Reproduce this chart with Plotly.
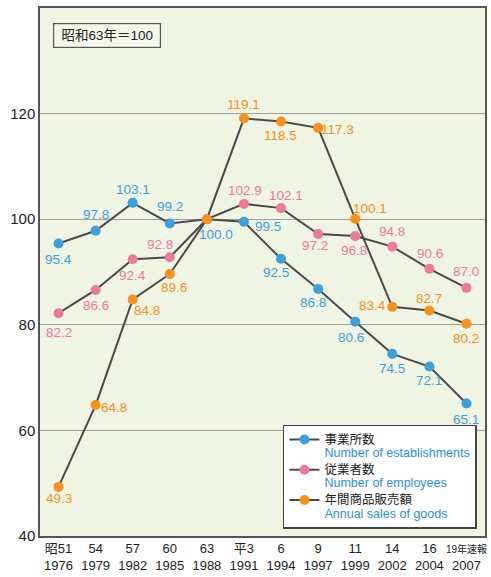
import plotly.graph_objects as go

categories = ["昭51<br>1976", "54<br>1979", "57<br>1982", "60<br>1985", "63<br>1988", "平3<br>1991",
              "6<br>1994", "9<br>1997", "11<br>1999", "14<br>2002", "16<br>2004",
              "<span style='font-size:10px'>19年速報</span><br>2007"]
establishments = [95.4, 97.8, 103.1, 99.2, 100.0, 99.5, 92.5, 86.8, 80.6, 74.5, 72.1, 65.1]
employees = [82.2, 86.6, 92.4, 92.8, 100.0, 102.9, 102.1, 97.2, 96.8, 94.8, 90.6, 87.0]
sales = [49.3, 64.8, 84.8, 89.6, 100.0, 119.1, 118.5, 117.3, 100.1, 83.4, 82.7, 80.2]

# label offsets (pixels, dx right / dy down) of each value label centre from its marker
est_off = [(0, 16), (0, -16), (0, -13), (0, -17), (9, 15), (24, 5),
           (-5, 14), (-5, 14), (-4, 16), (0, 15), (0, 14), (0, 16)]
emp_off = [(0, 19), (0, 16), (0, 16), (-10, -13), None, (1, -13),
           (5, -13), (-3, 12), (-1, 14), (0, -15), (1, -15), (0, -16)]
sal_off = [(0, 12), (18, 2), (14, 11), (4, 13), None, (0, -14),
           (-1, 14), (19, 2), (15, -10), (-20, -1), (0, -12), (0, 15)]

BLUE = "#3d9fdc"
PINK = "#ec7b9b"
ORANGE = "#f6901e"
LINE = "#4a4a4a"
FONT = "Liberation Sans, Noto Sans CJK JP"

fig = go.Figure()

def add(vals, color, offs, name):
    fig.add_trace(go.Scatter(
        x=categories, y=vals, mode="lines+markers", name=name,
        line=dict(color=LINE, width=2),
        marker=dict(color=color, size=10),
        cliponaxis=False,
    ))
    for c, v, o in zip(categories, vals, offs):
        if o is None:
            continue
        fig.add_annotation(
            x=c, y=v, xref="x", yref="y", text=f"{v:.1f}", showarrow=False,
            xanchor="center", yanchor="middle", xshift=o[0], yshift=-o[1],
            font=dict(color=color, size=13.5, family=FONT),
        )

def legend_name(jp, en):
    return (f"<span style='color:#222;font-size:12.5px'>{jp}</span><br>"
            f"<span style='color:#2b8fd6;font-size:12.5px'>{en}</span>")

add(establishments, BLUE, est_off, legend_name("事業所数", "Number of establishments"))
add(employees, PINK, emp_off, legend_name("従業者数", "Number of employees"))
add(sales, ORANGE, sal_off, legend_name("年間商品販売額", "Annual sales of goods"))

fig.add_annotation(
    x=0.029, y=0.972, xref="paper", yref="paper", xanchor="left", yanchor="top",
    text="昭和63年＝100", showarrow=False, width=100, height=17,
    font=dict(size=13.5, color="#222", family=FONT),
    bordercolor="#555", borderwidth=1.2, borderpad=3, bgcolor="#f4f7ea",
)

fig.update_layout(
    width=491, height=577,
    margin=dict(l=40, r=4, t=8, b=39),
    paper_bgcolor="white",
    plot_bgcolor="#f0f4e2",
    font=dict(family=FONT, color="#222"),
    showlegend=True,
    legend=dict(
        x=0.546, y=0.211, xanchor="left", yanchor="top",
        bgcolor="white", bordercolor="#444", borderwidth=1.5,
        font=dict(size=10.5, family=FONT),
        tracegroupgap=0, itemwidth=30, valign="top",
    ),
)
fig.update_xaxes(
    type="category", range=[-0.5, 11.5],
    showgrid=False, showline=True, linecolor="#555", linewidth=1.5, mirror=True,
    ticks="", tickfont=dict(size=13, color="#222"),
)
fig.update_yaxes(
    range=[40, 140], dtick=20,
    showgrid=True, gridcolor="#a0a0a0", gridwidth=1,
    showline=True, linecolor="#555", linewidth=1.5, mirror=True,
    ticks="", tickfont=dict(size=15, color="#222"), zeroline=False,
)

fig.write_html("out.html", config={"displayModeBar": False},
               post_script="document.body.style.margin='0px';document.body.style.overflow='hidden';")
